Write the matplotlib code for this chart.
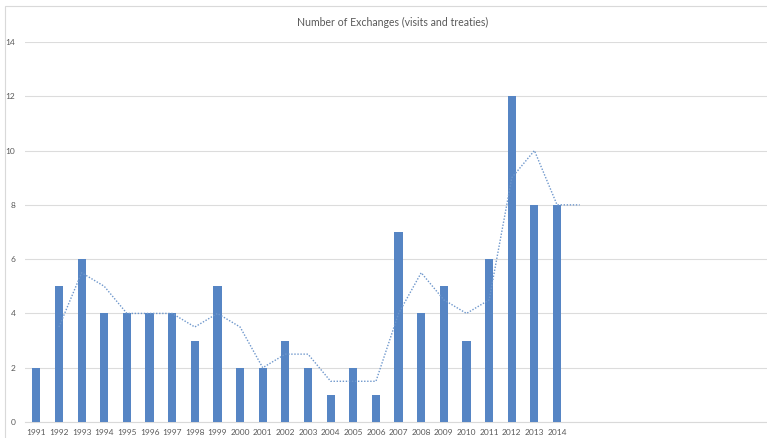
import matplotlib
matplotlib.use("Agg")
import matplotlib.pyplot as plt
from matplotlib.patches import Rectangle

# Yearly counts of exchanges
years = [str(y) for y in range(1991, 2015)]
exchanges = [2, 5, 6, 4, 4, 4, 4, 3, 5, 2, 2, 3, 2, 1, 2, 1, 7, 4, 5, 3, 6, 12, 8, 8]

# Two-period moving average trendline (1992 .. 2015)
trend_years = [str(y) for y in range(1992, 2016)]
trend_values = [3.5, 5.5, 5, 4, 4, 4, 3.5, 4, 3.5, 2, 2.5, 2.5, 1.5, 1.5, 1.5,
                4, 5.5, 4.5, 4, 4.5, 9, 10, 8, 8]

plt.rcParams['font.family'] = ['Lato', 'DejaVu Sans']

W, H = 767, 438
fig = plt.figure(figsize=(W / 100, H / 100), dpi=100)
fig.patch.set_facecolor('white')

# chart frame
fig.add_artist(Rectangle((5 / W, -0.1), 1.2, (H - 6) / H + 0.1,
                         transform=fig.transFigure, fill=False,
                         edgecolor='#d9d9d9', linewidth=0.8))

left = 25 / W
bottom = (H - 422) / H
top = (H - 42) / H
ax = fig.add_axes([left, bottom, 1.0 - left, top - bottom])

step = 22.65
x_right = (W - 24.7) / step - 0.5

pos = {y: i for i, y in enumerate(years + ['2015'])}
xb = [pos[y] for y in years]
xt = [pos[y] for y in trend_years]

ax.bar(xb, exchanges, width=0.36, color='#5685c4', zorder=3)
ax.plot(xt, trend_values, linestyle=(0, (1, 1.2)), color='#6e97cc',
        linewidth=1.0, zorder=4)

ax.set_xlim(-0.5, x_right)
ax.set_ylim(0, 14)
ax.set_yticks(range(0, 15, 2))
ax.set_xticks(xb)
ax.set_xticklabels(years)
ax.tick_params(axis='both', length=0, labelsize=6, colors='#595959')
ax.tick_params(axis='y', pad=7)
ax.tick_params(axis='x', pad=5)
ax.grid(axis='y', color='#dcdcdc', linewidth=0.8, zorder=0)
for side in ['top', 'right', 'left']:
    ax.spines[side].set_visible(False)
ax.spines['bottom'].set_color('#d9d9d9')
ax.spines['bottom'].set_linewidth(0.8)

fig.text(393 / W, (H - 22) / H, 'Number of Exchanges (visits and treaties)',
         ha='center', va='center', fontsize=7.6, color='#595959')

fig.savefig('out.png', dpi=100)
